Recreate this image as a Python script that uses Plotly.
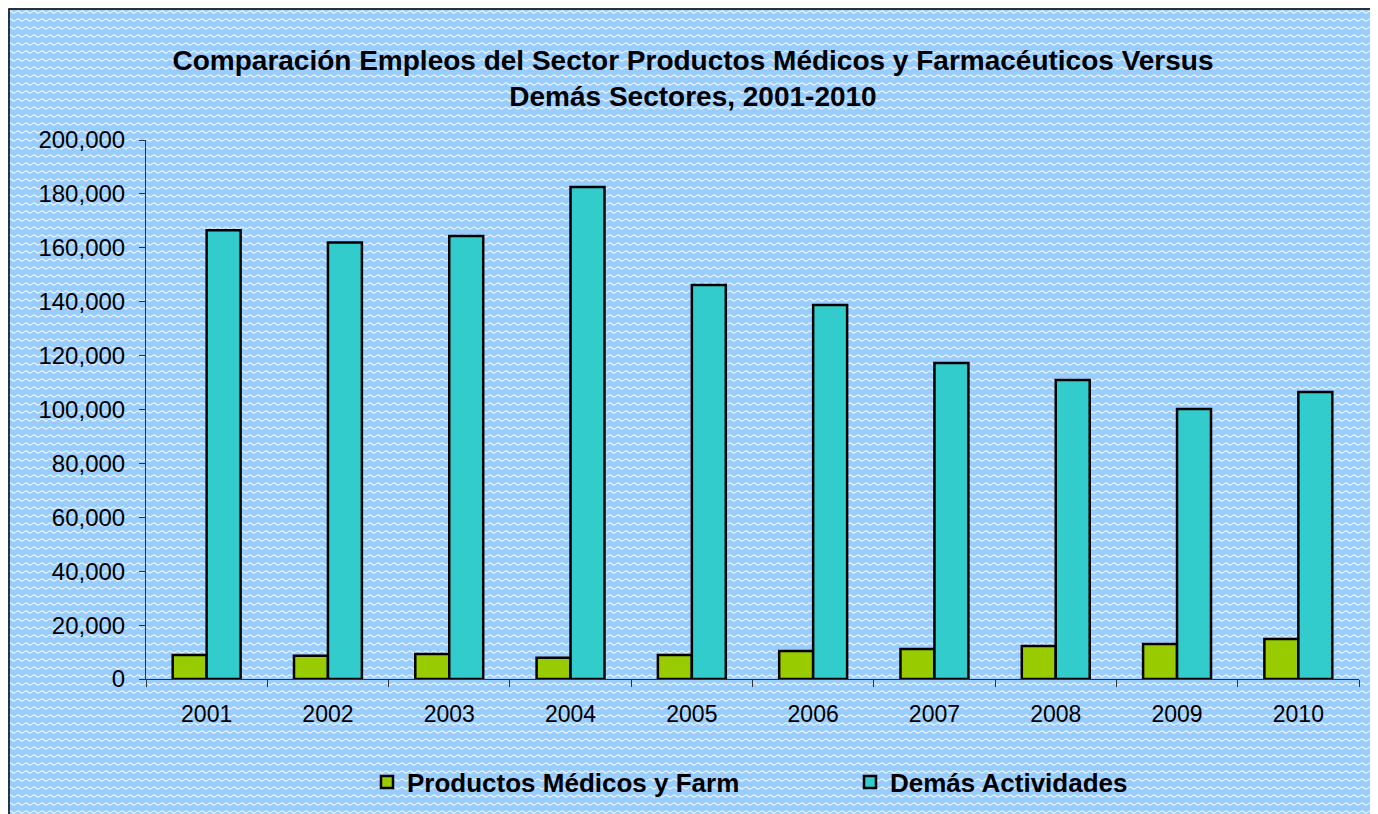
import base64
import plotly.graph_objects as go

# Employment by year
years = ['2001', '2002', '2003', '2004', '2005', '2006', '2007', '2008', '2009', '2010']
productos_medicos = [8900, 8600, 9300, 7900, 8900, 10400, 11100, 12200, 13000, 14800]
demas_actividades = [166500, 162000, 164400, 182600, 146200, 138800, 117300, 110900, 100200, 106500]

# page puts an 8px body margin around the figure, so the figure is 8px smaller
W, H = 1370, 806
L, R, T, B = 138, 19, 132, 135
PW, PH = W - L - R, H - T - B

# light blue background with white wavy stripes, like the spreadsheet fill
svg = (
    f'<svg xmlns="http://www.w3.org/2000/svg" width="{W}" height="{H}">'
    '<defs><pattern id="w" width="8" height="8" patternUnits="userSpaceOnUse">'
    '<rect width="8" height="8" fill="#99CCFF"/>'
    '<path d="M0 4 Q2 2 4 4 T8 4" stroke="#E8F4FF" stroke-width="1.2" fill="none"/>'
    '</pattern></defs>'
    f'<rect width="{W}" height="{H}" fill="url(#w)"/></svg>'
)
bg = 'data:image/svg+xml;base64,' + base64.b64encode(svg.encode()).decode()

fig = go.Figure()
fig.add_trace(go.Bar(
    x=years, y=productos_medicos, name='Productos Médicos y Farm',
    marker=dict(color='#99CC00', line=dict(color='black', width=2.5)),
))
fig.add_trace(go.Bar(
    x=years, y=demas_actividades, name='Demás Actividades',
    marker=dict(color='#33CCCC', line=dict(color='black', width=2.5)),
))

fig.update_layout(
    width=W, height=H,
    margin=dict(l=L, r=R, t=T, b=B, autoexpand=False),
    paper_bgcolor='#A9D3FF', plot_bgcolor='rgba(0,0,0,0)',
    font=dict(family='Liberation Sans, Arial', color='black', size=23),
    barmode='group', bargap=0.44, bargroupgap=0,
    title=dict(
        text='Comparación Empleos del Sector Productos Médicos y Farmacéuticos Versus<br>Demás Sectores, 2001-2010',
        x=0.5, xanchor='center', y=1 - 62 / H, yanchor='middle',
        font=dict(size=28, family='Liberation Sans, Arial', weight='bold'),
    ),
    legend=dict(
        orientation='h', x=(381 - 8 - 14 - L) / PW, xanchor='left',
        y=-(774 - (H - B)) / PH, yanchor='middle',
        entrywidth=438, entrywidthmode='pixels',
        font=dict(size=26, weight='bold'), bgcolor='rgba(0,0,0,0)',
    ),
    images=[dict(source=bg, xref='paper', yref='paper', x=-L / PW, y=1 + T / PH,
                 sizex=W / PW, sizey=H / PH, sizing='stretch', layer='below',
                 xanchor='left', yanchor='top')],
)
fig.update_xaxes(
    showline=True, linecolor='#333333', linewidth=1,
    ticks='outside', tickson='boundaries', ticklen=7, tickcolor='#333333',
    ticklabelstandoff=14, tickfont=dict(size=23),
    showgrid=False,
)
fig.update_yaxes(
    range=[0, 200000], dtick=20000, tickformat=',d',
    showline=True, linecolor='#333333', linewidth=1,
    ticks='outside', ticklen=6, tickcolor='#333333',
    ticklabelstandoff=9, tickfont=dict(size=24),
    showgrid=False, zeroline=False,
)

# thin outer border (only top and left fall inside the window)
fig.add_shape(type='rect', xref='paper', yref='paper',
              x0=-(L - 1) / PW, y0=-1, x1=1.5, y1=1 + (T - 1) / PH,
              line=dict(color='black', width=1.5), layer='above')

fig.write_html('out.html')
